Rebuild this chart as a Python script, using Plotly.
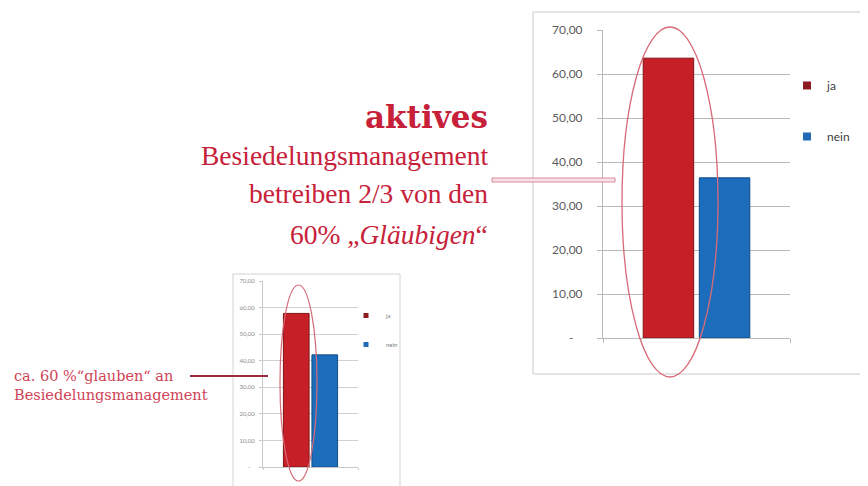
import plotly.graph_objects as go

W, H = 868, 486
OFF = 8  # the page body adds an 8 px margin; positions below are in screenshot pixels

# ---- data ----
categories = [""]
series_names = ["ja", "nein"]
big_values = [63.6, 36.4]       # large chart (2/3 of the "believers")
small_values = [57.8, 42.2]     # small chart (~60 % "believe")
tick_vals = [0, 10, 20, 30, 40, 50, 60, 70]
tick_text = ["-\u00a0\u00a0\u00a0", "10,00", "20,00", "30,00", "40,00", "50,00", "60,00", "70,00"]

bar_colors = ["#c61f28", "#1c6ebd"]
bar_edges = ["#7e1414", "#0f4b88"]
legend_colors = ["#8e1a22", "#1f6ab5"]

def px(x):
    return (x - OFF) / W

def py(y):
    return 1 - (y - OFF) / H

fig = go.Figure()

for i, name in enumerate(series_names):
    fig.add_trace(go.Bar(x=categories, y=[big_values[i]], name=name, xaxis="x", yaxis="y",
                         marker=dict(color=bar_colors[i], line=dict(color=bar_edges[i], width=1)),
                         showlegend=False, hoverinfo="skip"))
    fig.add_trace(go.Bar(x=categories, y=[small_values[i]], name=name, xaxis="x2", yaxis="y2",
                         marker=dict(color=bar_colors[i], line=dict(color=bar_edges[i], width=1)),
                         showlegend=False, hoverinfo="skip"))
    # legend proxies
    fig.add_trace(go.Scatter(x=[None], y=[None], mode="markers", name=name, xaxis="x", yaxis="y",
                             marker=dict(symbol="square", size=8, color=legend_colors[i]),
                             legend="legend", legendgroup="b" + name, showlegend=True))
    fig.add_trace(go.Scatter(x=[None], y=[None], mode="markers", name=name, xaxis="x2", yaxis="y2",
                             marker=dict(symbol="square", size=5, color=legend_colors[i]),
                             legend="legend2", legendgroup="s" + name, showlegend=True))

grid = "#b8b8b8"
axis_common = dict(showgrid=False, zeroline=False, fixedrange=True)

shapes = []
# chart frames
shapes.append(dict(type="rect", xref="paper", yref="paper", x0=px(533), x1=px(880), y0=py(374), y1=py(12),
                   line=dict(color="#c9c9c9", width=1), fillcolor="rgba(0,0,0,0)", layer="below"))
shapes.append(dict(type="rect", xref="paper", yref="paper", x0=px(233), x1=px(400), y0=py(500), y1=py(274),
                   line=dict(color="#d2d2d2", width=1), fillcolor="rgba(0,0,0,0)", layer="below"))
# ellipses
shapes.append(dict(type="circle", xref="paper", yref="paper", x0=px(622), x1=px(718), y0=py(377), y1=py(27),
                   line=dict(color="#d86a78", width=1.3)))
shapes.append(dict(type="circle", xref="paper", yref="paper", x0=px(280), x1=px(317), y0=py(481), y1=py(285),
                   line=dict(color="#d86a78", width=1.2)))
# connectors
shapes.append(dict(type="rect", xref="paper", yref="paper", x0=px(492), x1=px(615), y0=py(182), y1=py(178),
                   line=dict(color="#d98b9a", width=1), fillcolor="#f7e3e7"))
shapes.append(dict(type="line", xref="paper", yref="paper", x0=px(190), x1=px(268), y0=py(376), y1=py(376),
                   line=dict(color="#9b2c3c", width=2)))

serif = "Liberation Serif"
red = "#c7213a"
annotations = [
    dict(text="<b>aktives</b>", x=px(490), y=py(117), font=dict(family="DejaVu Serif", size=31, color=red)),
    dict(text="Besiedelungsmanagement", x=px(490), y=py(155), font=dict(family=serif, size=27.5, color=red)),
    dict(text="betreiben 2/3 von den", x=px(490), y=py(194), font=dict(family=serif, size=27.5, color=red)),
    dict(text="60% \u201e<i>Gläubigen</i>\u201c", x=px(490), y=py(234), font=dict(family=serif, size=27.5, color=red)),
]
for a in annotations:
    a.update(xref="paper", yref="paper", xanchor="right", yanchor="middle", showarrow=False)

small_red = "#cf4458"
for txt, yy in [("ca. 60 %\u201cglauben\u201c an", 376), ("Besiedelungsmanagement", 395)]:
    annotations.append(dict(text=txt, x=px(12), y=py(yy), xref="paper", yref="paper", xanchor="left",
                            yanchor="middle", showarrow=False,
                            font=dict(family="DejaVu Serif", size=14.5, color=small_red)))

fig.update_layout(
    width=W, height=H, autosize=False,
    margin=dict(l=0, r=0, t=0, b=0, pad=0, autoexpand=False),
    paper_bgcolor="white", plot_bgcolor="rgba(0,0,0,0)",
    barmode="group", bargap=0.4, bargroupgap=0.1,
    xaxis=dict(domain=[px(603), px(790)], anchor="y", showticklabels=False, showline=True,
               linecolor=grid, ticks="outside", tickson="boundaries", ticklen=4, tickcolor=grid,
               **axis_common),
    yaxis=dict(domain=[py(338), py(30)], anchor="x", range=[0, 70], tickvals=tick_vals, ticktext=tick_text,
               showline=True, linecolor=grid, ticks="outside", ticklen=5, tickcolor=grid,
               ticklabelstandoff=12,
               tickfont=dict(family="Lato", size=12, color="#5a5a5a"),
               gridcolor=grid, gridwidth=1, fixedrange=True, zeroline=False, showgrid=True),
    xaxis2=dict(domain=[px(263), px(358)], anchor="y2", showticklabels=False, showline=True,
                linecolor="#c8c8c8", ticks="outside", tickson="boundaries", ticklen=2, tickcolor="#c8c8c8",
                **axis_common),
    yaxis2=dict(domain=[py(467), py(281)], anchor="x2", range=[0, 70], tickvals=tick_vals, ticktext=tick_text,
                showline=True, linecolor="#c8c8c8", ticks="outside", ticklen=3, tickcolor="#c8c8c8",
                ticklabelstandoff=3,
                tickfont=dict(family="Lato", size=6, color="#8a8a8a"),
                gridcolor="#d0d0d0", gridwidth=1, fixedrange=True, zeroline=False, showgrid=True),
    legend=dict(x=px(787), y=py(71), xanchor="left", yanchor="top", bgcolor="rgba(0,0,0,0)",
                font=dict(family="Lato", size=12, color="#404040"), tracegroupgap=32,
                itemclick=False, itemdoubleclick=False),
    legend2=dict(x=px(346), y=py(301), xanchor="left", yanchor="top", bgcolor="rgba(0,0,0,0)",
                 font=dict(family="Lato", size=6, color="#7a7a7a"), tracegroupgap=10,
                 itemclick=False, itemdoubleclick=False),
    shapes=shapes,
    annotations=annotations,
    showlegend=True,
)

fig.write_html("out.html")
